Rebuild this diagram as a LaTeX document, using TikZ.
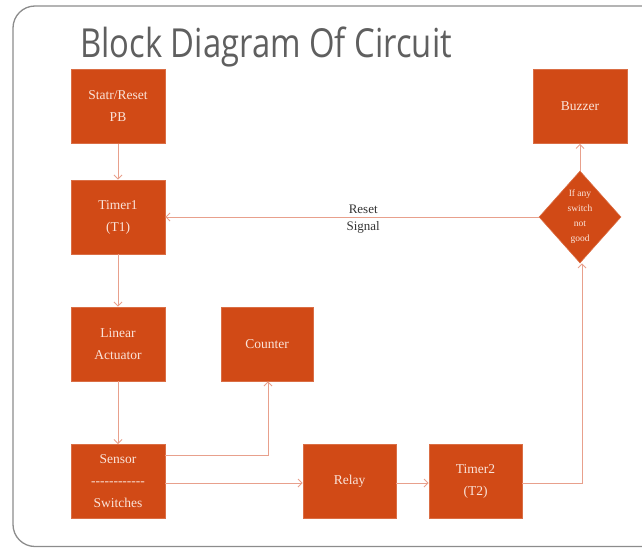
\documentclass[tikz,border=0pt]{standalone}
\usepackage{fontspec}
\setmainfont{Liberation Serif}
\newfontfamily\titlefont{Open Sans}
\usetikzlibrary{arrows.meta,shapes.geometric}
\definecolor{boxfill}{RGB}{209,74,22}
\definecolor{linec}{RGB}{232,160,140}
\definecolor{boxtext}{RGB}{250,228,218}
\definecolor{titlec}{RGB}{95,95,95}
\definecolor{framec}{RGB}{140,140,140}
\tikzset{
  blk/.style={rectangle, fill=boxfill, draw=boxfill!80!white, line width=0.6pt,
    minimum width=94pt, minimum height=74pt, inner sep=0pt,
    text=boxtext, font=\fontsize{13.5}{22}\selectfont, align=center},
  dec/.style={diamond, fill=boxfill, draw=boxfill!80!white, line width=0.6pt,
    minimum width=82pt, minimum height=92pt, inner sep=0pt, aspect=0.9,
    text=boxtext, font=\fontsize{9.5}{15}\selectfont, align=center},
  conn/.style={draw=linec, line width=1pt, -{Straight Barb[length=4pt,width=8pt]}},
  lbl/.style={font=\fontsize{13}{15}\selectfont, text=black!80}
}
\begin{document}
\begin{tikzpicture}[x=1pt,y=-1pt]
\useasboundingbox (0,0) rectangle (642,548);
\begin{scope}
\clip (0,0) rectangle (642,548);
\draw[framec, line width=1.3pt, rounded corners=22pt] (13,6) rectangle (680,546.5);
\end{scope}
\node[anchor=base west, text=titlec, inner sep=0pt] (title) at (80,58)
  {\scalebox{0.82}[1]{\titlefont\fontsize{40}{44}\selectfont Block Diagram Of Circuit}};

\node[blk] (pb) at (118,106.5) {Statr/Reset\\PB};
\node[blk] (t1) at (118,217) {Timer1\\(T1)};
\node[blk] (la) at (118,344) {Linear\\Actuator};
\node[blk, minimum width=92pt] (ctr) at (267,344) {Counter};
\node[blk] (sen) at (118,481.5) {Sensor\\-{}-{}-{}-{}-{}-{}-{}-{}-{}-{}-{}-\\Switches};
\node[blk, minimum width=93pt] (rel) at (349.5,481.5) {Relay};
\node[blk, minimum width=93pt] (t2) at (475.5,481.5) {Timer2\\(T2)};
\node[blk] (buz) at (580,106.5) {Buzzer};
\node[dec] (dm) at (580,217) {If any\\switch\\not\\good};

\coordinate (s1) at (165,455);
\coordinate (c1) at (268,455);
\coordinate (s2) at (165,483);
\coordinate (t2r) at (522,483);
\coordinate (k1) at (582,483);

\draw[conn] (pb) -- (t1);
\draw[conn] (t1) -- (la);
\draw[conn] (la) -- (sen);
\draw[conn] (s1) -- (c1) -- (c1 |- ctr.south);
\draw[conn] (s2) -- (s2 -| rel.west);
\draw[conn] (rel.east |- s2) -- (t2.west |- s2);
\draw[conn] (t2r) -- (k1) -- (k1 |- dm.south);
\draw[conn] (dm) -- (buz);
\draw[conn] (dm.west) -- (t1.east |- dm.west)
  node[lbl, pos=0.47, above=0pt] (rs) {Reset}
  node[lbl, pos=0.47, below=1pt] (sg) {Signal};
\end{tikzpicture}
\end{document}
